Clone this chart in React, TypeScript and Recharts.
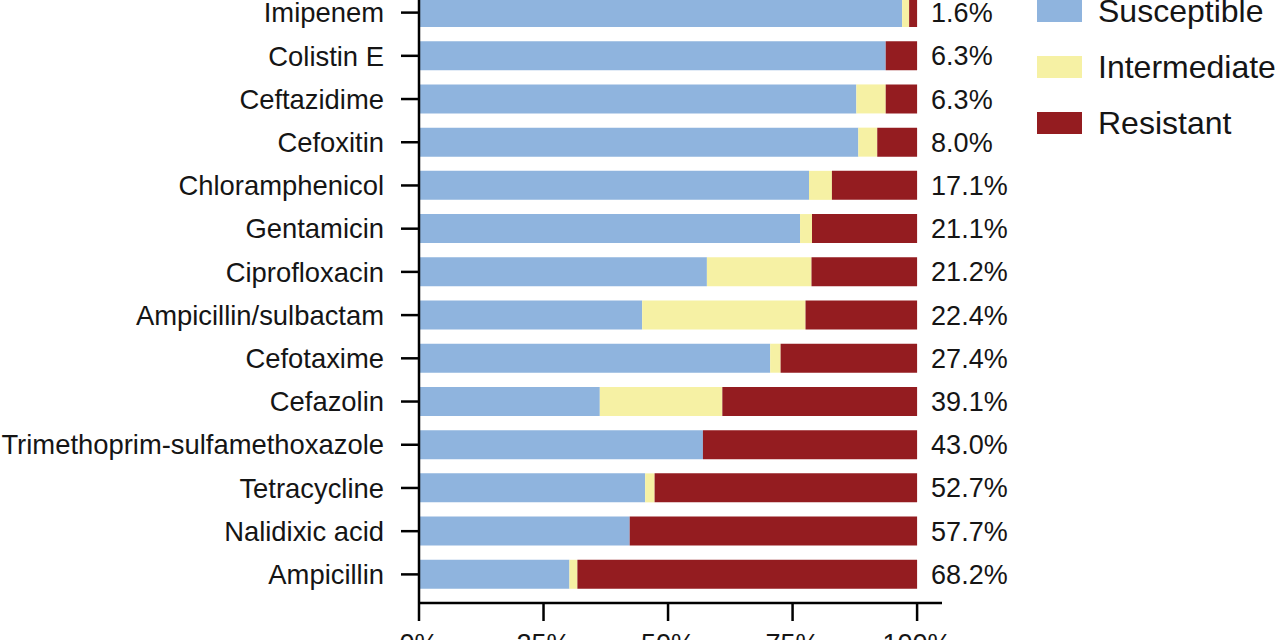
import { BarChart, Bar, XAxis, YAxis, Legend, LabelList } from 'recharts'

const categories = [
  'Imipenem',
  'Colistin E',
  'Ceftazidime',
  'Cefoxitin',
  'Chloramphenicol',
  'Gentamicin',
  'Ciprofloxacin',
  'Ampicillin/sulbactam',
  'Cefotaxime',
  'Cefazolin',
  'Trimethoprim-sulfamethoxazole',
  'Tetracycline',
  'Nalidixic acid',
  'Ampicillin',
]
const susceptible = [97.0, 93.7, 87.8, 88.2, 78.3, 76.5, 57.8, 44.8, 70.5, 36.3, 57.0, 45.4, 42.3, 30.2]
const intermediate = [1.4, 0, 5.9, 3.8, 4.6, 2.4, 21.0, 32.8, 2.1, 24.6, 0, 1.9, 0, 1.6]
const resistant = [1.6, 6.3, 6.3, 8.0, 17.1, 21.1, 21.2, 22.4, 27.4, 39.1, 43.0, 52.7, 57.7, 68.2]
const xTicks = [0, 25, 50, 75, 100]

const series = [
  { key: 'susceptible', name: 'Susceptible', color: '#8fb4de' },
  { key: 'intermediate', name: 'Intermediate', color: '#f6f1a4' },
  { key: 'resistant', name: 'Resistant', color: '#941c20' },
]

const data = categories.map((name, i) => ({
  name,
  susceptible: susceptible[i],
  intermediate: intermediate[i],
  resistant: resistant[i],
}))

const font = '"Liberation Sans", Arial, sans-serif'
const ink = '#151515'

function LegendBox() {
  return (
    <div style={{ fontFamily: font }}>
      {series.map((s) => (
        <div key={s.key} style={{ display: 'flex', alignItems: 'center', height: 56 }}>
          <div style={{ width: 45, height: 22, background: s.color, marginRight: 16, flexShrink: 0 }} />
          <span style={{ fontSize: 32, color: ink, whiteSpace: 'nowrap' }}>{s.name}</span>
        </div>
      ))}
    </div>
  )
}

export default function App() {
  return (
    <div style={{ position: 'absolute', left: 0, top: 0, width: 1280, height: 640, overflow: 'hidden', background: '#fff' }}>
      <div style={{ position: 'absolute', left: 0, top: -40 }}>
        <BarChart
          width={1280}
          height={703}
          data={data}
          layout="vertical"
          barSize={29}
          margin={{ top: 31, right: 338, bottom: 0, left: 0 }}
          style={{ fontFamily: font }}
        >
          <XAxis
            type="number"
            domain={[0, 105]}
            ticks={xTicks}
            tickFormatter={(v: number) => `${v}%`}
            height={60}
            axisLine={{ stroke: '#000', strokeWidth: 2.5 }}
            tickLine={{ stroke: '#000', strokeWidth: 2.5 }}
            tickSize={18}
            tickMargin={13}
            tick={{ fontSize: 27, fill: ink }}
          />
          <YAxis
            type="category"
            dataKey="name"
            width={419}
            padding={{ top: 0, bottom: 7 }}
            axisLine={{ stroke: '#000', strokeWidth: 2.5 }}
            tickLine={{ stroke: '#000', strokeWidth: 2.5 }}
            tickSize={18}
            tickMargin={17}
            tick={{ fontSize: 27.4, fill: ink }}
            interval={0}
          />
          <Legend
            layout="vertical"
            align="center"
            verticalAlign="middle"
            content={() => <LegendBox />}
            wrapperStyle={{ left: 1037, top: 23, width: 243 }}
          />
          {series.map((s) => (
            <Bar key={s.key} dataKey={s.key} name={s.name} stackId="a" fill={s.color} isAnimationActive={false}>
              {s.key === 'resistant' && (
                <LabelList
                  dataKey="resistant"
                  position="right"
                  offset={14}
                  formatter={(v: number) => `${v.toFixed(1)}%`}
                  style={{ fontSize: 27, fill: ink }}
                />
              )}
            </Bar>
          ))}
        </BarChart>
      </div>
    </div>
  )
}
